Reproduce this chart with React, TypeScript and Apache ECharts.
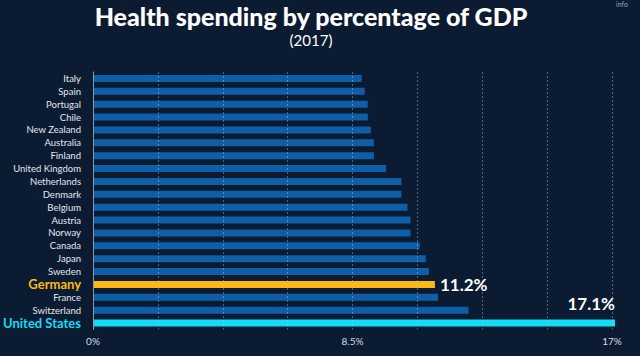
import React, { useEffect, useRef } from "react";
import * as echarts from "echarts";

const countries = [
  "Italy", "Spain", "Portugal", "Chile", "New Zealand", "Australia", "Finland",
  "United Kingdom", "Netherlands", "Denmark", "Belgium", "Austria", "Norway",
  "Canada", "Japan", "Sweden", "Germany", "France", "Switzerland", "United States",
];
const spending = [
  8.8, 8.9, 9.0, 9.0, 9.1, 9.2, 9.2, 9.6, 10.1, 10.1, 10.3, 10.4, 10.4,
  10.7, 10.9, 11.0, 11.2, 11.3, 12.3, 17.1,
];
const xTickLabels = ["0%", "8.5%", "17%"];
const xTickValues = [0, 8.5, 17];

const TITLE = "Health spending by percentage of GDP";
const SUBTITLE = "(2017)";

const FONT = "Lato, 'Open Sans', sans-serif";
const BLUE = "#0f5fa8";
const YELLOW = "#fdb813";
const CYAN = "#12dcf6";

export default function App() {
  const ref = useRef<HTMLDivElement>(null);
  useEffect(() => {
    if (!ref.current) return;
    const chart = echarts.init(ref.current, undefined, { renderer: "svg" });
    const data = spending.map((v, i) => {
      const name = countries[i];
      if (name === "Germany") {
        return {
          value: v,
          itemStyle: { color: YELLOW },
          label: {
            show: true,
            position: "right",
            distance: 5,
            formatter: v.toFixed(1) + "%",
            color: "#ffffff",
            fontSize: 17,
            fontWeight: "bold",
            fontFamily: FONT,
          },
        };
      }
      if (name === "United States") {
        return {
          value: v,
          itemStyle: { color: CYAN },
          label: {
            show: true,
            position: ["100%", -8],
            align: "right",
            verticalAlign: "bottom",
            formatter: v.toFixed(1) + "%",
            color: "#ffffff",
            fontSize: 17,
            fontWeight: "bold",
            fontFamily: FONT,
          },
        };
      }
      return { value: v };
    });
    chart.setOption({
      animation: false,
      backgroundColor: "#0b1b31",
      textStyle: { fontFamily: FONT },
      graphic: [
        {
          type: "text",
          x: 311,
          y: 16,
          style: {
            text: TITLE,
            fill: "#ffffff",
            font: `900 25px ${FONT}`,
            align: "center",
            verticalAlign: "middle",
          },
        },
        {
          type: "text",
          x: 311,
          y: 40,
          style: {
            text: SUBTITLE,
            fill: "#ffffff",
            font: `15px ${FONT}`,
            align: "center",
            verticalAlign: "middle",
          },
        },
        {
          type: "text",
          x: 622,
          y: 0,
          style: {
            text: "info",
            fill: "#9aa6b4",
            font: `7px ${FONT}`,
            align: "center",
            verticalAlign: "top",
          },
        },
      ],
      grid: { left: 93, right: 28, top: 72, bottom: 26.5, containLabel: false },
      xAxis: {
        type: "value",
        min: 0,
        max: 17,
        interval: 2.125,
        z: 10,
        axisLine: { show: false },
        axisTick: { show: false },
        splitLine: {
          show: true,
          lineStyle: { color: "rgba(190,205,225,0.4)", type: [2, 2], width: 1 },
        },
        axisLabel: {
          color: "#d6dce4",
          fontSize: 10,
          margin: 6,
          showMinLabel: true,
          showMaxLabel: true,
          formatter: (val: number) => {
            const idx = xTickValues.findIndex((t) => Math.abs(t - val) < 1e-6);
            return idx >= 0 ? xTickLabels[idx] : "";
          },
        },
      },
      yAxis: {
        type: "category",
        data: countries,
        inverse: true,
        z: 10,
        axisLine: { show: true, lineStyle: { color: "#8d99a8", width: 1 } },
        axisTick: { show: false },
        splitLine: { show: false },
        axisLabel: {
          margin: 12,
          interval: 0,
          formatter: (val: string) => {
            if (val === "Germany") return `{de|${val}}`;
            if (val === "United States") return `{us|${val}}`;
            return `{n|${val}}`;
          },
          rich: {
            n: { fontSize: 9.5, color: "#e2e7ee", fontFamily: FONT },
            de: { fontSize: 13, fontWeight: "bold", color: YELLOW, fontFamily: FONT },
            us: { fontSize: 13, fontWeight: "bold", color: CYAN, fontFamily: FONT },
          },
        },
      },
      series: [
        {
          type: "bar",
          data,
          barWidth: 7,
          clip: false,
          itemStyle: { color: BLUE },
          z: 2,
        },
      ],
    });
    return () => chart.dispose();
  }, []);
  return <div ref={ref} style={{ width: 640, height: 356, position: "fixed", left: 0, top: 0 }} />;
}
